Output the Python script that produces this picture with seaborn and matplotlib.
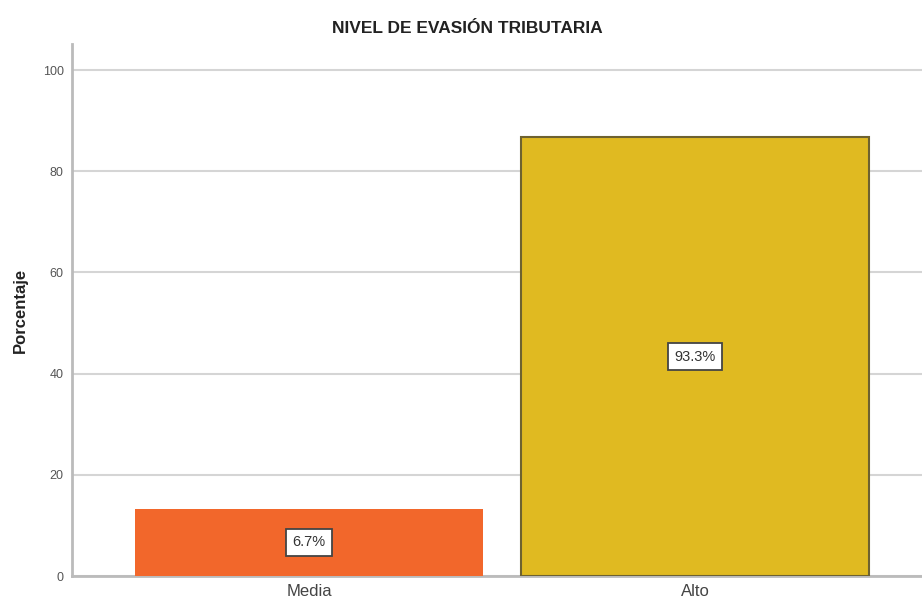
import matplotlib
matplotlib.use("Agg")
import matplotlib.pyplot as plt
import seaborn as sns
import pandas as pd

categories = ["Media", "Alto"]
percentages = [13.3, 86.7]
bar_labels = ["6.7%", "93.3%"]
colors = ["#F2672B", "#E0BA21"]
yticks = [0, 20, 40, 60, 80, 100]

sns.set_theme(style="white")
plt.rcParams['font.family'] = ['Liberation Sans Narrow', 'Liberation Sans', 'DejaVu Sans']

df = pd.DataFrame({"cat": categories, "pct": percentages})

fig = plt.figure(figsize=(9.22, 6.06), dpi=100)
ax = fig.add_axes([0.078, 0.0495, 0.922, 0.8775])

sns.barplot(data=df, x="cat", y="pct", hue="cat", palette=colors, width=0.9,
            legend=False, ax=ax, saturation=1, zorder=3)
edgecols = ["none", "#6E6230"]
for p, ec in zip(ax.patches, edgecols):
    p.set_edgecolor(ec)
    p.set_linewidth(1.5 if ec != "none" else 0)

for i, (v, lab) in enumerate(zip(percentages, bar_labels)):
    ax.text(i, v / 2, lab, ha="center", va="center", fontsize=10.5, color="#333333",
            bbox=dict(boxstyle="square,pad=0.45", facecolor="white", edgecolor="#444444", linewidth=1.3),
            zorder=5)

ax.set_xlim(-0.614, 1.588)
ax.set_ylim(0, 105.1)
ax.set_yticks(yticks)
ax.set_yticklabels([str(t) for t in yticks], fontsize=9, color="#555555")
ax.tick_params(axis="x", labelsize=12, labelcolor="#444444", length=0, pad=6)
ax.tick_params(axis="y", length=0, pad=6)
ax.yaxis.grid(True, color="#D5D5D5", linewidth=1.5, zorder=0)
ax.set_axisbelow(True)
for s in ["top", "right"]:
    ax.spines[s].set_visible(False)
for s in ["left", "bottom"]:
    ax.spines[s].set_color("#BBBBBB")
    ax.spines[s].set_linewidth(2)
ax.set_xlabel("")
ax.set_ylabel("Porcentaje", fontsize=12, fontweight="bold", color="#222222")
ax.yaxis.set_label_coords(-0.052, 0.5)
fig.text(0.507, 0.953, "NIVEL DE EVASIÓN TRIBUTARIA", ha="center", va="center",
         fontsize=12.5, fontweight="bold", color="#222222")

fig.savefig("out.png", dpi=100)
